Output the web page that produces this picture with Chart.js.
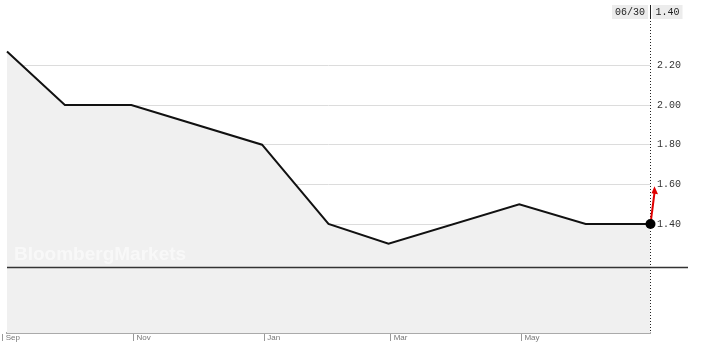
<!DOCTYPE html>
<html>
<head>
<meta charset="utf-8">
<script src="https://cdn.jsdelivr.net/npm/chart.js@4.4.0/dist/chart.umd.min.js"></script>
<style>
html, body { margin: 0; padding: 0; background: #fff; }
</style>
</head>
<body>
<canvas id="ratechart" width="702" height="349"></canvas>
<script>
// data
const startDate = '2012-09-01';
const dates = ['2012-09-03', '2012-09-30', '2012-10-31', '2012-12-31', '2013-01-31', '2013-02-28', '2013-04-30', '2013-05-31', '2013-06-30'];
const rates = [2.27, 2.00, 2.00, 1.80, 1.40, 1.30, 1.50, 1.40, 1.40];
const monthtickdates = ['2012-09-01', '2012-11-01', '2013-01-01', '2013-03-01', '2013-05-01'];
const monthticklabels = ['Sep', 'Nov', 'Jan', 'Mar', 'May'];
const rateticks = [1.40, 1.60, 1.80, 2.00, 2.20];
const lastdatelabel = '06/30';
const arrowtarget = 1.60;
const dividerlevel = 1.185;
const ymin = 0.85;
const ymax = 2.50;

function dayoffset(d) {
    return (Date.parse(d) - Date.parse(startDate)) / 86400000;
}

let points = [];
dates.forEach((d, i) => {
    points.push({ x: dayoffset(d), y: rates[i] });
});
const last = points.length - 1;

const overlay = {
    id: 'overlay',
    afterDatasetsDraw(chart) {
        const ctx = chart.ctx;
        const area = chart.chartArea;
        const xs = chart.scales.x;
        const ys = chart.scales.y;
        const xl = Math.round(xs.getPixelForValue(points[last].x)) + 0.5;
        const yl = ys.getPixelForValue(points[last].y);
        ctx.save();

        // watermark
        ctx.font = 'bold 19px "Liberation Sans", Arial, sans-serif';
        ctx.fillStyle = 'rgba(255,255,255,0.55)';
        ctx.textBaseline = 'alphabetic';
        ctx.textAlign = 'left';
        ctx.fillText('BloombergMarkets', 14, 260);

        // panel divider
        const yd = Math.round(ys.getPixelForValue(dividerlevel)) + 0.5;
        ctx.strokeStyle = '#333';
        ctx.lineWidth = 1.5;
        ctx.setLineDash([]);
        ctx.beginPath();
        ctx.moveTo(area.left, yd);
        ctx.lineTo(chart.width - 14, yd);
        ctx.stroke();

        // dotted cursor line
        ctx.lineWidth = 1;
        ctx.strokeStyle = '#222';
        ctx.setLineDash([1, 2]);
        ctx.beginPath();
        ctx.moveTo(xl, area.top);
        ctx.lineTo(xl, area.bottom);
        ctx.stroke();
        ctx.setLineDash([]);
        ctx.beginPath();
        ctx.moveTo(xl, area.top - 1);
        ctx.lineTo(xl, area.top + 13);
        ctx.stroke();

        // top date / value boxes
        ctx.font = '10px "Liberation Mono", "DejaVu Sans Mono", monospace';
        ctx.textBaseline = 'middle';
        let dw = ctx.measureText(lastdatelabel).width + 6;
        ctx.fillStyle = '#ececec';
        ctx.fillRect(xl - 2.5 - dw, area.top - 1, dw, 14);
        let vtext = rates[last].toFixed(2);
        let vw = ctx.measureText(vtext).width + 6;
        ctx.fillRect(xl + 2, area.top - 1, vw, 14);
        ctx.fillStyle = '#222';
        ctx.textAlign = 'center';
        ctx.fillText(lastdatelabel, xl - 2.5 - dw / 2, area.top + 6);
        ctx.fillText(vtext, xl + 2 + vw / 2, area.top + 6);

        // red arrow
        const ya = ys.getPixelForValue(arrowtarget) + 2;
        const xa = xl + 4;
        ctx.strokeStyle = '#e00000';
        ctx.fillStyle = '#e00000';
        ctx.lineWidth = 2;
        ctx.beginPath();
        ctx.moveTo(xl, yl);
        ctx.lineTo(xa, ya + 6);
        ctx.stroke();
        ctx.beginPath();
        ctx.moveTo(xa, ya);
        ctx.lineTo(xa + 3.5, ya + 8);
        ctx.lineTo(xa - 3, ya + 7);
        ctx.closePath();
        ctx.fill();

        // last point dot on top
        ctx.fillStyle = '#000';
        ctx.beginPath();
        ctx.arc(xl, yl, 5, 0, Math.PI * 2);
        ctx.fill();
        ctx.restore();
    }
};

const linedata = {
    datasets: [
        {
            label: 'rate',
            data: points,
            borderColor: '#111',
            borderWidth: 2,
            backgroundColor: '#f0f0f0',
            fill: 'start',
            pointRadius: 0,
            tension: 0,
            clip: false
        }
    ]
};

const lineconfig = {
    type: 'line',
    data: linedata,
    options: {
        responsive: false,
        devicePixelRatio: 1,
        animation: false,
        layout: { padding: { left: 7, top: 1, right: 0, bottom: 0 } },
        plugins: {
            legend: { display: false },
            tooltip: { enabled: false }
        },
        scales: {
            x: {
                type: 'linear',
                min: points[0].x,
                max: points[last].x,
                afterBuildTicks: (scale) => {
                    scale.ticks = monthtickdates.map(d => ({ value: dayoffset(d) }));
                },
                afterFit: (scale) => { scale.height = 16; },
                border: { display: true, color: '#aaa', width: 2 },
                grid: { drawOnChartArea: false, drawTicks: true, tickLength: 8, color: '#999', tickWidth: 1 },
                ticks: {
                    autoSkip: false,
                    maxRotation: 0,
                    align: 'start',
                    labelOffset: 3,
                    padding: -8,
                    color: '#777',
                    font: { family: '"Liberation Sans", Arial, sans-serif', size: 8 },
                    callback: (v, i) => monthticklabels[i]
                }
            },
            y: {
                position: 'right',
                min: ymin,
                max: ymax,
                afterBuildTicks: (scale) => {
                    scale.ticks = rateticks.map(v => ({ value: v }));
                },
                afterFit: (scale) => { scale.width = 52; },
                border: { display: false },
                grid: { color: '#dcdcdc', lineWidth: 1, drawTicks: true, tickLength: 7, tickColor: 'rgba(0,0,0,0)' },
                ticks: {
                    padding: 0,
                    color: '#333',
                    font: { family: '"Liberation Mono", "DejaVu Sans Mono", monospace', size: 10 },
                    callback: (v) => Number(v).toFixed(2)
                }
            }
        }
    },
    plugins: [overlay]
};

new Chart(document.getElementById('ratechart'), lineconfig);
</script>
</body>
</html>
